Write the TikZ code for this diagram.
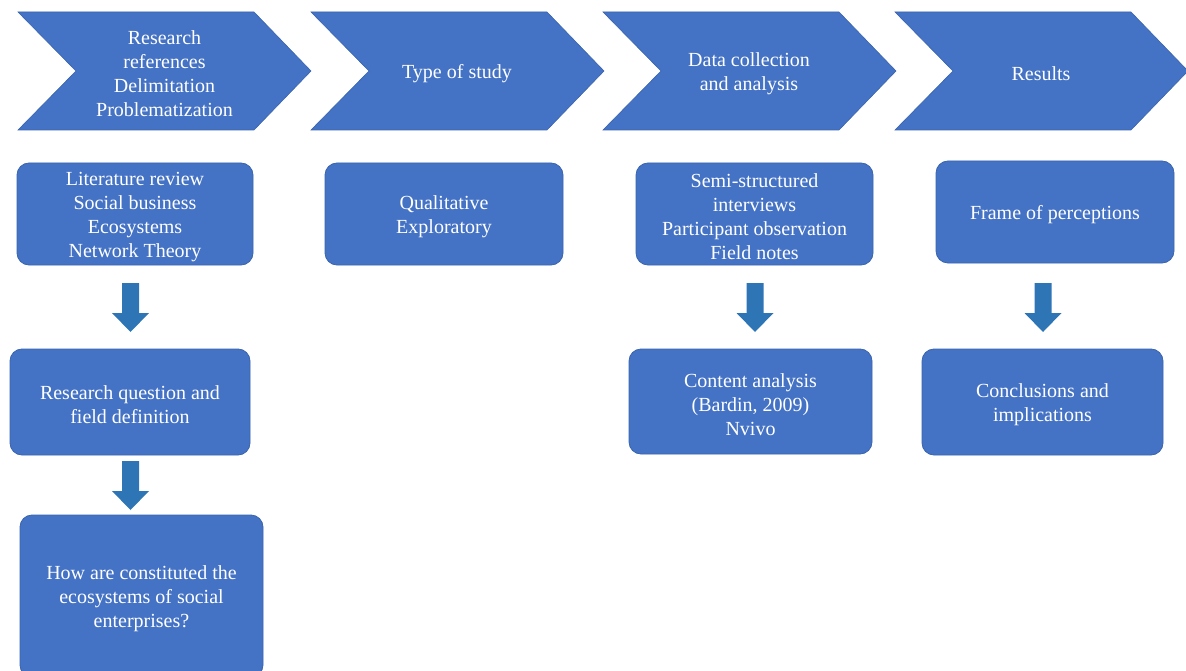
\documentclass[tikz,border=0pt]{standalone}
\usepackage{fontspec}
\setmainfont{Liberation Serif}
\definecolor{boxfill}{HTML}{4472C4}
\definecolor{boxedge}{HTML}{3A64AE}
\definecolor{arrowfill}{HTML}{2E75B6}
\begin{document}
\begin{tikzpicture}[x=1pt,y=-1pt,
  lbl/.style={text=white,align=center,font=\fontsize{20}{24}\selectfont},
  card/.style={draw=boxedge,line width=0.8pt,fill=boxfill,rounded corners=12pt,
    inner sep=0pt},
  chevfill/.style={fill=boxfill,draw=boxedge,line width=0.6pt},
  downarrow/.pic={\fill[arrowfill] (-8.5,0) -- (8.5,0) -- (8.5,30) -- (18.5,30)
    -- (0,49) -- (-18.5,30) -- (-8.5,30) -- cycle;},
  chevron/.pic={\path[chevfill] (0,12) -- (236,12) -- (293,71) -- (236,130)
    -- (0,130) -- (58,71) -- cycle;}
]
\useasboundingbox (0,0) rectangle (1186,671);
\clip (0,0) rectangle (1186,671);

% stage chevrons along the top
\pic (c1) at (18,0) {chevron};
\pic (c2) at (311,0) {chevron};
\pic (c3) at (603,0) {chevron};
\pic (c4) at (895,0) {chevron};
\node[lbl] (t1) at (164.5,74) {Research\\references\\Delimitation\\Problematization};
\node[lbl] (t2) at (457,74) {Type of study};
\node[lbl] (t3) at (749,74) {Data collection\\and analysis};
\node[lbl] (t4) at (1041,74) {Results};

% column 1
\node[card,minimum width=236pt,minimum height=102pt] (lit) at (135,214) {};
\node[card,minimum width=240pt,minimum height=106pt] (rq) at (130,402) {};
\node[card,minimum width=243pt,minimum height=162pt] (how) at (141.5,596) {};
\node[lbl] (lit-t) at ([yshift=-3pt]lit.center)
  {Literature review\\Social business\\Ecosystems\\Network Theory};
\node[lbl] (rq-t) at ([yshift=-3pt]rq.center) {Research question and\\field definition};
\node[lbl] (how-t) at ([yshift=-3pt]how.center)
  {How are constituted the\\ecosystems of social\\enterprises?};
\pic (a1) at (130.5,283) {downarrow};
\pic (a2) at (130.5,461) {downarrow};

% column 2
\node[card,minimum width=238pt,minimum height=102pt] (qual) at (444,214) {};
\node[lbl] (qual-t) at ([yshift=-3pt]qual.center) {Qualitative\\Exploratory};

% column 3
\node[card,minimum width=237pt,minimum height=102pt] (semi) at (754.5,214) {};
\node[card,minimum width=243pt,minimum height=105pt] (cont) at (750.5,401.5) {};
\node[lbl] (semi-t) at ([yshift=-3pt]semi.center)
  {Semi-structured\\interviews\\Participant observation\\Field notes};
\node[lbl] (cont-t) at ([yshift=-3pt]cont.center)
  {Content analysis\\(Bardin, 2009)\\Nvivo};
\pic (a3) at (755,283) {downarrow};

% column 4
\node[card,minimum width=238pt,minimum height=102pt] (frame) at (1055,212) {};
\node[card,minimum width=241pt,minimum height=106pt] (concl) at (1042.5,402) {};
\node[lbl] (frame-t) at ([yshift=-3pt]frame.center) {Frame of perceptions};
\node[lbl] (concl-t) at ([yshift=-3pt]concl.center) {Conclusions and\\implications};
\pic (a4) at (1043,283) {downarrow};
\end{tikzpicture}
\end{document}
